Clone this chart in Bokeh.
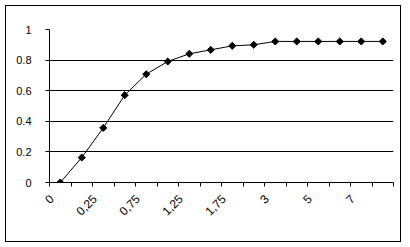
import math
from bokeh.plotting import figure
from bokeh.models import FixedTicker, Range1d, ColumnDataSource
from bokeh.embed import file_html
from bokeh.resources import INLINE

categories = ["0", "0,125", "0,25", "0,5", "0,75", "1", "1,25", "1,5", "1,75",
              "2", "3", "4", "5", "6", "7", "8"]
values = [0.0, 0.163, 0.357, 0.571, 0.708, 0.791, 0.841, 0.867, 0.893,
          0.900, 0.922, 0.922, 0.922, 0.922, 0.922, 0.922]
y_ticks = [0, 0.2, 0.4, 0.6, 0.8, 1]
y_tick_labels = ["0", "0.2", "0.4", "0.6", "0.8", "1"]

n = len(categories)
xs = [i + 0.5 for i in range(n)]
src = ColumnDataSource(dict(x=xs, y=values))

p = figure(frame_width=344, frame_height=153,
           min_border_left=43, min_border_right=7,
           min_border_top=23, min_border_bottom=59,
           x_range=Range1d(0, n), y_range=Range1d(0, 1),
           output_backend="svg", toolbar_location=None)
p.outline_line_color = None
# chart-area border (as in the spreadsheet chart)
p.styles = {"border": "1px solid black", "margin-left": "5px", "margin-top": "5px"}

FONT = "Liberation Sans"

xa = p.xaxis[0]
label_pos = [i + 0.1 for i in range(0, n, 2)]
xa.ticker = FixedTicker(ticks=label_pos, minor_ticks=list(range(0, n + 1)))
xa.major_label_overrides = {i + 0.1: categories[i] for i in range(0, n, 2)}
xa.major_tick_line_color = None
xa.major_tick_out = 4
xa.major_tick_in = 0
xa.minor_tick_line_color = "black"
xa.minor_tick_out = 4
xa.minor_tick_in = 0
xa.axis_line_color = "black"
xa.major_label_orientation = math.pi / 4
xa.major_label_standoff = 10
xa.major_label_text_font = FONT
xa.major_label_text_font_size = "12px"
xa.major_label_text_color = "black"

ya = p.yaxis[0]
ya.ticker = FixedTicker(ticks=y_ticks)
ya.major_label_overrides = {t: l for t, l in zip(y_ticks, y_tick_labels)}
ya.major_tick_out = 4
ya.major_tick_in = 0
ya.minor_tick_line_color = None
ya.axis_line_color = "black"
ya.major_label_standoff = 14
ya.major_label_text_font = FONT
ya.major_label_text_font_size = "11px"
ya.major_label_text_color = "black"

p.xgrid.visible = False
p.ygrid.ticker = FixedTicker(ticks=[0.2, 0.4, 0.6, 0.8])
p.ygrid.grid_line_color = "black"

p.line("x", "y", source=src, line_color="black", line_width=1)
p.scatter("x", "y", source=src, marker="square", angle=math.pi / 4, size=5,
          fill_color="black", line_color="black")

open("out.html", "w").write(file_html(p, INLINE))
